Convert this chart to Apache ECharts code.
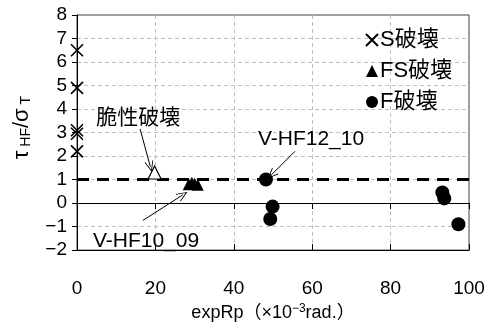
<!DOCTYPE html>
<html><head><meta charset="utf-8">
<script src="https://cdn.jsdelivr.net/npm/echarts@6/dist/echarts.min.js"></script>
<style>html,body{margin:0;padding:0;background:#fff}#c{width:489px;height:327px}</style>
</head><body><div id="c"></div>
<script>
// ---- data ----
const xTicks = {min: 0, max: 100, interval: 20};
const yTicks = {min: -2, max: 8, interval: 1};
const sName = 'S破壊', fsName = 'FS破壊', fName = 'F破壊';
const sData = [[0, 6.5], [0, 4.9], [0, 3.1], [0, 2.95], [0, 2.2]];
const fsData = [[28.5, 0.8], [29.3, 0.86], [30.0, 0.82], [30.8, 0.78]];
const brittleData = [[19.8, 1.3]];
const fData = [[48.2, 1.0], [49.9, -0.15], [49.3, -0.68], [93.2, 0.45], [93.7, 0.2], [97.3, -0.9]];
const refY = 1;
const noteTexts = ['脆性破壊', 'V-HF10_09', 'V-HF12_10'];
const notePos = [[15.6, 3.6], [17.6, -1.62], [59.7, 2.72]];
const arrowFrom = [[16.1, 3.15], [16.8, -0.74], [55.6, 2.2]];
const arrowTo = [[18.7, 1.55], [27.0, 0.35], [49.6, 1.2]];

const FONT = "'Liberation Sans','Noto Sans CJK JP',sans-serif";
const crossPath = 'path://M0,0L10,10M10,0L0,10';
const openArrow = 'path://M5,0L10,12L9,12L5,2.5L1,12L0,12Z';

const chart = echarts.init(document.getElementById('c'));
const minusFmt = v => String(v).replace('-', '−');
const baseX = Object.assign({type: 'value'}, xTicks);
chart.setOption({
  animation: false,
  grid: {left: 77, right: 20, top: 15, bottom: 74, show: true, borderColor: '#404040', borderWidth: 1, backgroundColor: 'transparent'},
  xAxis: [
    Object.assign({}, baseX, {
      position: 'bottom',
      axisLine: {onZero: false, lineStyle: {color: '#000', width: 1}},
      axisTick: {show: false},
      axisLabel: {margin: 29, fontSize: 19, color: '#000', fontFamily: FONT},
      splitLine: {show: true, showMinLine: false, showMaxLine: false, lineStyle: {color: '#bfbfbf', type: [4, 3], width: 1}},
      name: 'expRp（×10{sup|−3}rad.）',
      nameLocation: 'middle', nameGap: 50,
      nameTextStyle: {fontSize: 18, color: '#000', fontFamily: FONT,
        rich: {sup: {fontSize: 12, verticalAlign: 'top', color: '#000', fontFamily: FONT, padding: [0, 0, 8, 0]}}}
    }),
    Object.assign({}, baseX, {
      position: 'bottom',
      axisLine: {onZero: true, lineStyle: {color: '#000', width: 1}},
      axisTick: {show: true, inside: false, length: 6, lineStyle: {color: '#000'}},
      axisLabel: {show: false}, splitLine: {show: false}
    }),
    Object.assign({}, baseX, {
      position: 'bottom',
      axisLine: {onZero: true, show: false},
      axisTick: {show: true, inside: true, length: 6, lineStyle: {color: '#000'}},
      axisLabel: {show: false}, splitLine: {show: false}
    })
  ],
  yAxis: Object.assign({type: 'value', position: 'left'}, yTicks, {
    axisLine: {show: true, onZero: false, lineStyle: {color: '#000', width: 1}},
    axisTick: {show: true, inside: false, length: 5, lineStyle: {color: '#000'}},
    axisLabel: {margin: 10, fontSize: 19, color: '#000', fontFamily: FONT, formatter: minusFmt},
    splitLine: {show: true, showMinLine: false, showMaxLine: false, lineStyle: {color: '#bfbfbf', type: [4, 3], width: 1}},
    name: '{a|τ}{s| HF}{a|/σ}{t| T}',
    nameLocation: 'middle', nameRotate: 90, nameGap: 44,
    nameTextStyle: {color: '#000', fontFamily: FONT, padding: [0, 0, 0, 10],
      rich: {
        a: {fontSize: 22, color: '#000', fontFamily: FONT, verticalAlign: 'bottom', lineHeight: 24},
        s: {fontSize: 14, color: '#000', fontFamily: FONT, verticalAlign: 'bottom', lineHeight: 24},
        t: {fontSize: 14, color: '#000', fontFamily: FONT, verticalAlign: 'bottom', lineHeight: 30}
      }}
  }),
  legend: {
    orient: 'vertical', left: 360, top: 24, itemGap: 9, itemWidth: 12, itemHeight: 12,
    data: [{name: sName, icon: crossPath}, {name: fsName, icon: 'triangle'}, {name: fName, icon: 'circle'}],
    textStyle: {fontSize: 22, color: '#000', fontFamily: FONT, padding: [0, 0, 0, -3]}
  },
  series: [
    {
      name: 'ref', type: 'line', symbol: 'none', silent: true, z: 3,
      data: [[xTicks.min, refY], [xTicks.max, refY]],
      lineStyle: {color: '#000', width: 3, type: [12, 8], opacity: 1}
    },
    {
      name: sName, type: 'scatter', symbol: crossPath, symbolSize: 12, z: 5,
      data: sData,
      itemStyle: {color: 'transparent', borderColor: '#000', borderWidth: 1.6, opacity: 1}
    },
    {
      name: 'brittle', type: 'scatter', symbol: 'triangle', symbolSize: 13, z: 5,
      data: brittleData,
      itemStyle: {color: '#fff', borderColor: '#000', borderWidth: 1.2, opacity: 1}
    },
    {
      name: fsName, type: 'scatter', symbol: 'triangle', symbolSize: 12, z: 5,
      data: fsData, itemStyle: {color: '#000', opacity: 1}
    },
    {
      name: fName, type: 'scatter', symbol: 'circle', symbolSize: 14, z: 5,
      data: fData, itemStyle: {color: '#000', opacity: 1}
    },
    {
      name: 'notes', type: 'scatter', symbolSize: 1, z: 6, silent: true,
      data: noteTexts.map((t, i) => ({name: t, value: notePos[i]})),
      itemStyle: {color: 'transparent', opacity: 1},
      label: {show: true, position: 'inside', formatter: p => p.name, fontSize: 21, color: '#000', fontFamily: FONT, opacity: 1},
      markLine: {
        silent: true, symbol: ['none', openArrow], symbolSize: [9, 11],
        label: {show: false},
        lineStyle: {color: '#000', width: 1, type: 'solid', opacity: 1},
        data: arrowFrom.map((f, i) => [{coord: f}, {coord: arrowTo[i]}])
      }
    }
  ]
});
</script></body></html>
